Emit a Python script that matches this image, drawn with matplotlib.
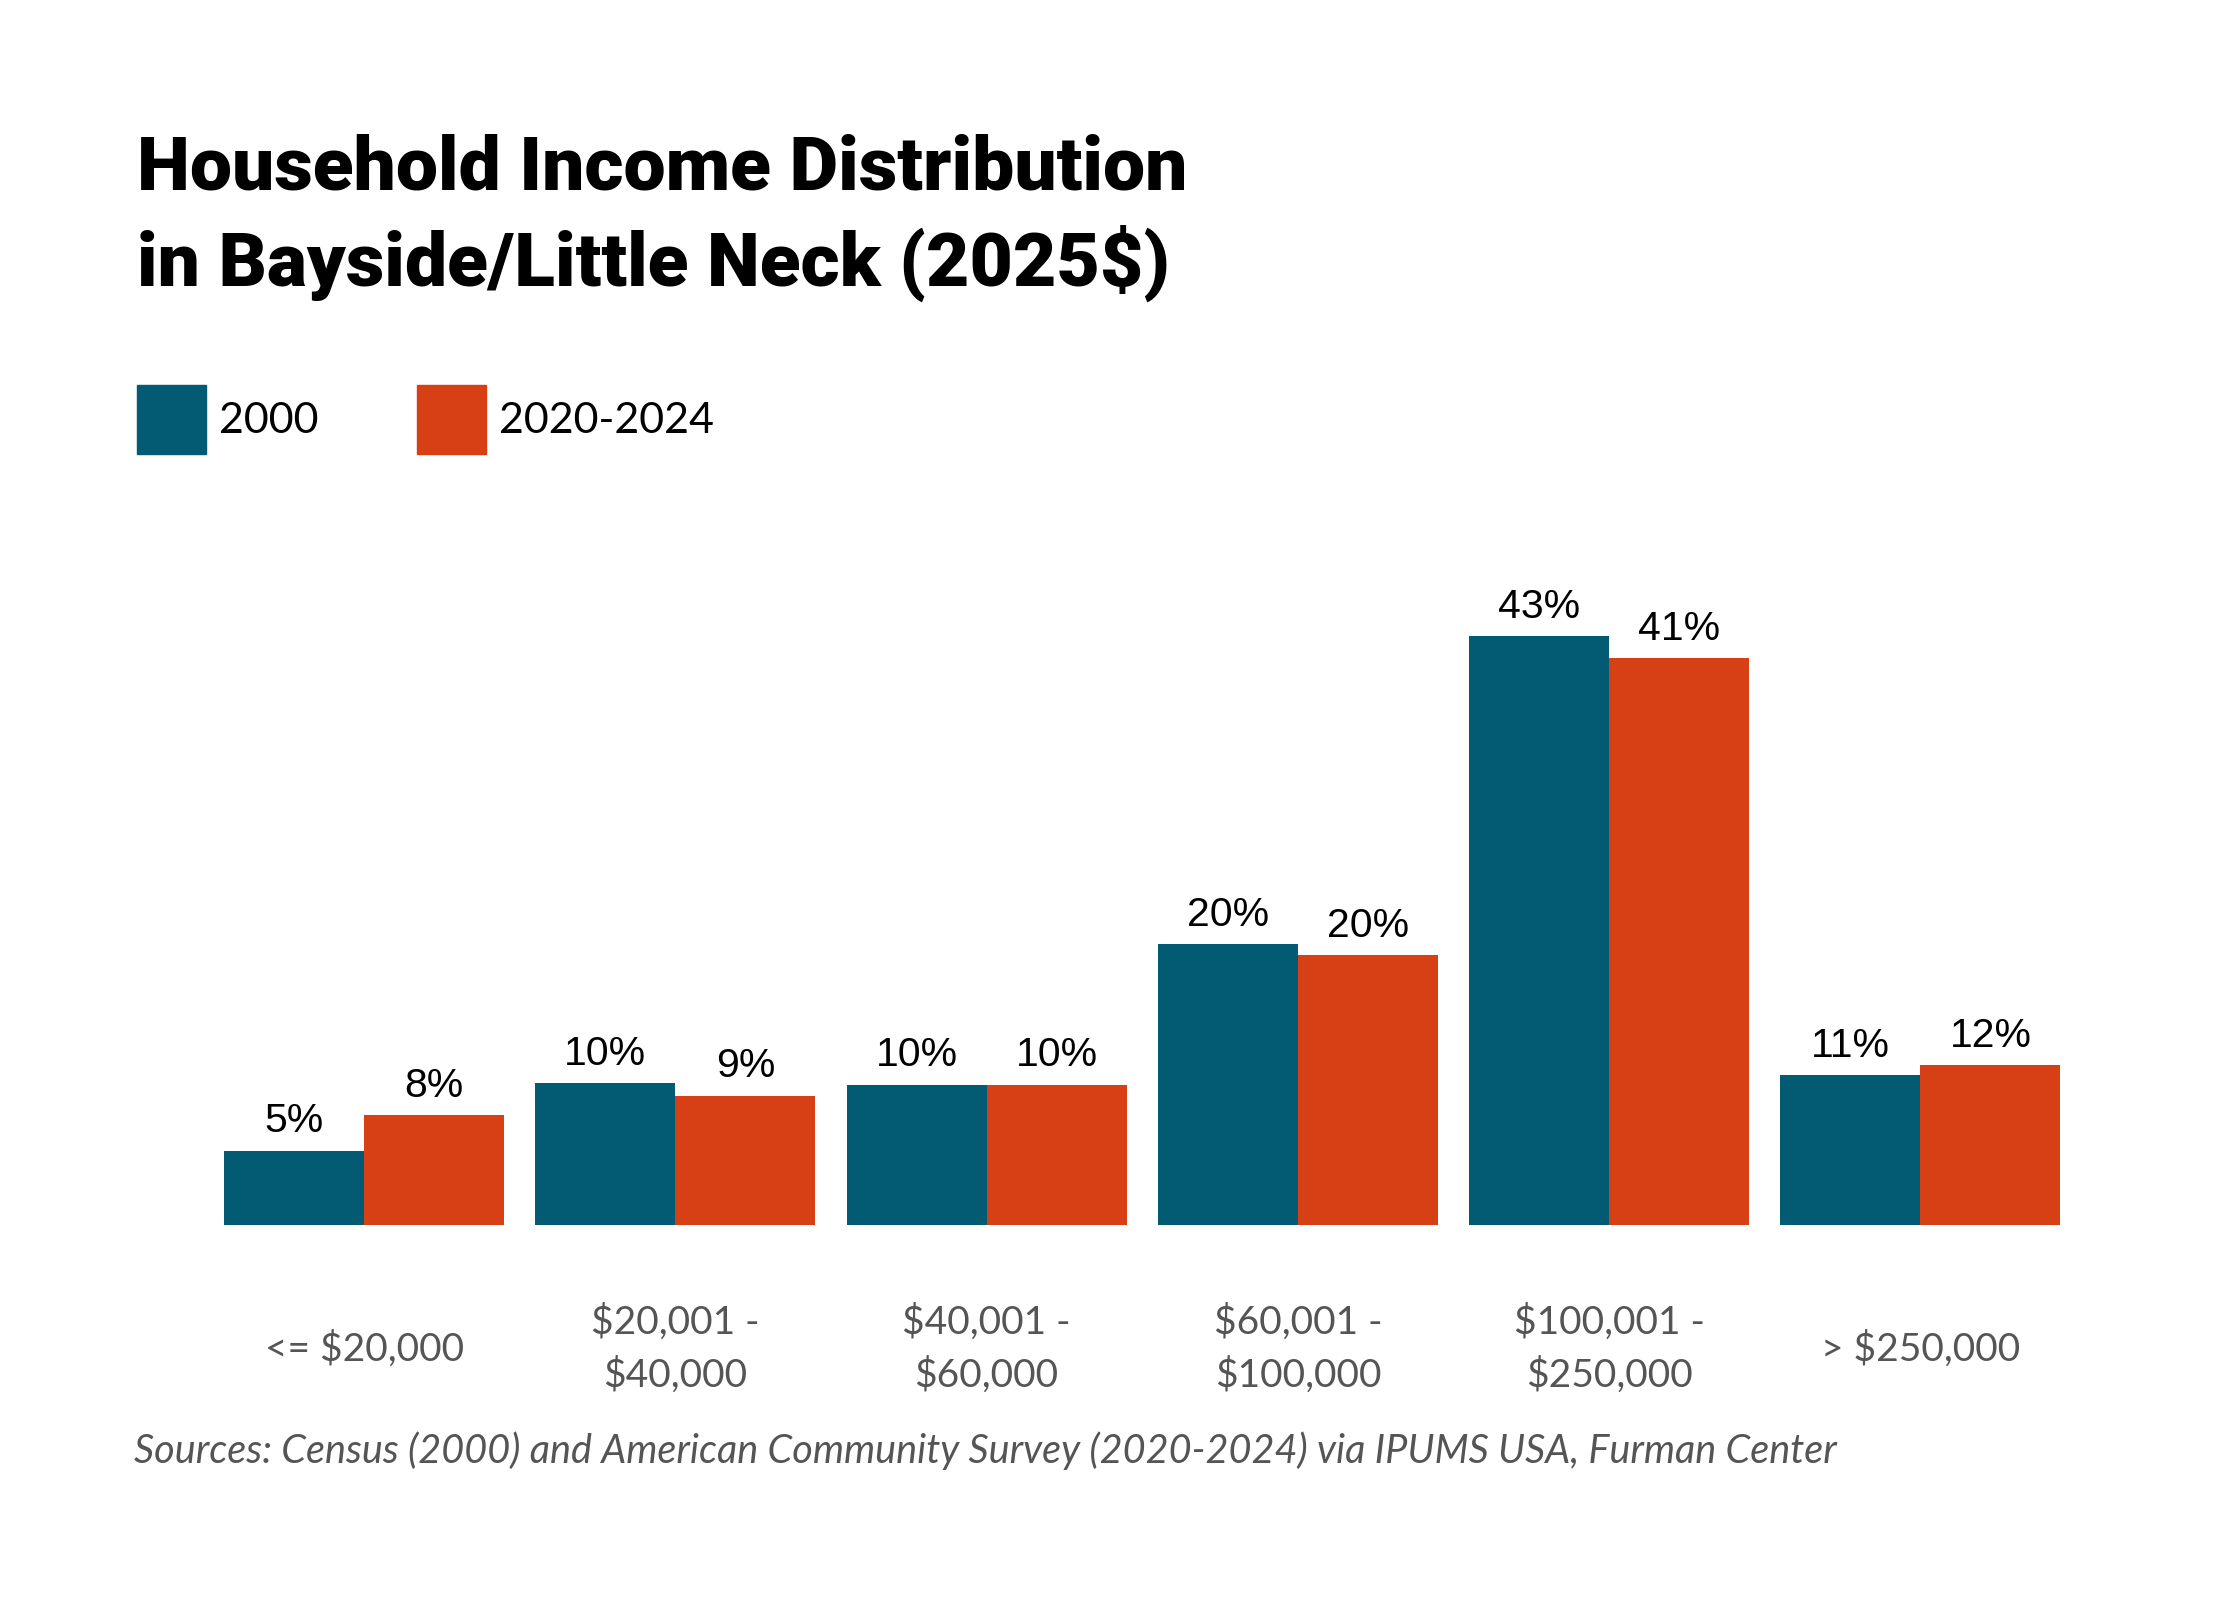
import numpy as np
import matplotlib
matplotlib.use("Agg")
import matplotlib.pyplot as plt
from matplotlib.patches import Patch

# data (percent of households)
categories = ["<= $20,000", "$20,001 -\n$40,000", "$40,001 -\n$60,000",
              "$60,001 -\n$100,000", "$100,001 -\n$250,000", "> $250,000"]
share_2000 = [5.4, 10.3, 10.2, 20.4, 42.8, 10.9]
share_2024 = [8.0, 9.4, 10.2, 19.6, 41.2, 11.6]
series_names = ["2000", "2020-2024"]

blue = "#025a73"
orange = "#d64014"
grey = "#555555"

W, H = 2240, 1600
fig = plt.figure(figsize=(W / 100, H / 100), dpi=100)

def fx(px):
    return px / W

def fy(px):
    return 1 - px / H

# axes placed so bars sit where the reference has them
ax = fig.add_axes([fx(208.5), fy(1225), fx(1867.5), 688 / H])

x = np.arange(len(categories))
w = 0.45
b1 = ax.bar(x - w / 2, share_2000, w, color=blue, label=series_names[0])
b2 = ax.bar(x + w / 2, share_2024, w, color=orange, label=series_names[1])

lab_font = dict(family="Liberation Sans", size=29.5, color="black")
ax.bar_label(b1, labels=[f"{v:.0f}%" for v in share_2000], padding=7.5, **lab_font)
ax.bar_label(b2, labels=[f"{v:.0f}%" for v in share_2024], padding=7.5, **lab_font)

ax.set_xlim(-0.5, len(categories) - 0.5)
ax.set_ylim(0, 50)
ax.set_xticks(x)
ax.set_xticklabels(categories, family="Lato", size=28, color=grey, linespacing=1.5)
for t in ax.get_xticklabels():
    t.set_va("center")
ax.tick_params(axis="x", length=0, pad=89)
ax.set_yticks([])
for s in ax.spines.values():
    s.set_visible(False)

# title
title_font = dict(family="Roboto", weight="black", size=54, color="black")
fig.text(fx(137), fy(189), "Household Income Distribution", va="baseline", **title_font)
fig.text(fx(137), fy(286), "in Bayside/Little Neck (2025$)", va="baseline", **title_font)

# legend
handles = [Patch(color=blue), Patch(color=orange)]
fig.legend(handles, series_names, loc="upper left", bbox_to_anchor=(fx(137), fy(385)),
           ncol=2, frameon=False, borderpad=0, borderaxespad=0,
           handlelength=1.6, handleheight=2.08, handletextpad=0.3, columnspacing=2.3,
           prop=dict(family="Lato", size=31))

fig.text(fx(134), fy(1451),
         "Sources: Census (2000) and American Community Survey (2020-2024) via IPUMS USA, Furman Center",
         va="center", family="Lato", style="italic", size=28.5, color=grey)

fig.savefig("out.png", dpi=100, facecolor="white")
